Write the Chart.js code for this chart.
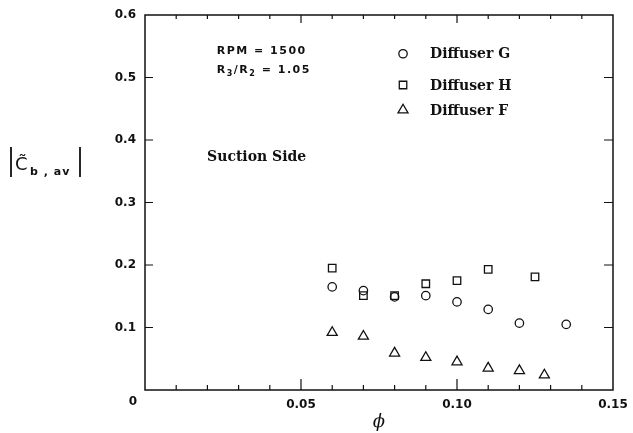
<!DOCTYPE html>
<html>
<head>
<meta charset="utf-8">
<script src="https://cdn.jsdelivr.net/npm/chart.js@4.4.1/dist/chart.umd.min.js"></script>
<style>
    html, body { margin: 0; padding: 0; background: #fff; }
    #wrap { width: 633px; height: 433px; }
</style>
</head>
<body>
<div id="wrap"><canvas id="chart"></canvas></div>
<script>
// ============================================
// DATA
// ============================================
const phiG = [0.06, 0.07, 0.08, 0.09, 0.10, 0.11, 0.12, 0.135];
const cbG = [0.165, 0.159, 0.149, 0.151, 0.141, 0.129, 0.107, 0.105];

const phiH = [0.06, 0.07, 0.08, 0.09, 0.10, 0.11, 0.125];
const cbH = [0.195, 0.151, 0.151, 0.170, 0.175, 0.193, 0.181];

const phiF = [0.06, 0.07, 0.08, 0.09, 0.10, 0.11, 0.12, 0.128];
const cbF = [0.092, 0.086, 0.059, 0.052, 0.045, 0.035, 0.031, 0.024];

const seriesNames = ['Diffuser G', 'Diffuser H', 'Diffuser F'];
const xTickLabels = ['0.05', '0.10', '0.15'];
const yTickLabels = ['0.1', '0.2', '0.3', '0.4', '0.5', '0.6'];

const ink = '#111';
const tickFont = { family: 'DejaVu Sans', size: 12, weight: 'bold' };

function toPoints(xs, ys) {
    return xs.map((x, i) => ({ x: x, y: ys[i] }));
}

function labelFor(list, value) {
    const hit = list.find((l) => Math.abs(parseFloat(l) - value) < 1e-6);
    return hit || '';
}

// keep the plot box fixed, labels may hang over the edges
function noOverhang(scale) {
    scale.paddingLeft = 0;
    scale.paddingRight = 0;
    scale.paddingTop = 0;
    scale.paddingBottom = 0;
}

// ============================================
// FRAME, INWARD TICKS AND TEXT
// ============================================
const decorPlugin = {
    id: 'decor',
    afterDraw(chart) {
        const ctx = chart.ctx;
        const area = chart.chartArea;
        const xs = chart.scales.x;
        const ys = chart.scales.y;

        ctx.save();
        ctx.strokeStyle = ink;
        ctx.fillStyle = ink;

        // box
        ctx.lineWidth = 1.5;
        ctx.strokeRect(area.left, area.top, area.right - area.left, area.bottom - area.top);

        // x ticks, top and bottom
        ctx.lineWidth = 1.2;
        xs.ticks.forEach((t) => {
            const px = xs.getPixelForValue(t.value);
            const major = labelFor(xTickLabels, t.value) !== '';
            if (px <= area.left + 1 || px >= area.right - 1) return;
            ctx.beginPath();
            ctx.moveTo(px, area.bottom);
            ctx.lineTo(px, area.bottom - (major ? 11 : 5));
            ctx.moveTo(px, area.top);
            ctx.lineTo(px, area.top + (major ? 8 : 4));
            ctx.stroke();
        });

        // y ticks, left and right
        ys.ticks.forEach((t) => {
            const py = ys.getPixelForValue(t.value);
            if (py >= area.bottom - 1 || py <= area.top + 1) return;
            ctx.beginPath();
            ctx.moveTo(area.left, py);
            ctx.lineTo(area.left + 8, py);
            ctx.moveTo(area.right, py);
            ctx.lineTo(area.right - 9, py);
            ctx.stroke();
        });

        // corner zero
        ctx.font = 'bold 12px "DejaVu Sans"';
        ctx.textAlign = 'center';
        ctx.textBaseline = 'middle';
        ctx.fillText('0', area.left - 12, area.bottom + 12);

        // y axis title |C~ b,av|
        ctx.lineWidth = 1.8;
        ctx.beginPath();
        ctx.moveTo(11, 147);
        ctx.lineTo(11, 177);
        ctx.moveTo(80, 147);
        ctx.lineTo(80, 177);
        ctx.stroke();
        ctx.textAlign = 'left';
        ctx.textBaseline = 'alphabetic';
        ctx.font = '18px "DejaVu Sans"';
        ctx.fillText('C\u0303', 15, 170);
        ctx.font = 'bold 11px "DejaVu Sans"';
        ctx.letterSpacing = '1px';
        ctx.fillText('b , av', 30, 175);

        // run notes
        ctx.font = 'bold 11px "DejaVu Sans"';
        ctx.letterSpacing = '1.5px';
        const nx = xs.getPixelForValue(0.023);
        ctx.fillText('RPM = 1500', nx, ys.getPixelForValue(0.537));
        let cx = nx;
        const ny = ys.getPixelForValue(0.508);
        const parts = [['R', 11, 0], ['3', 8, 3], ['/', 11, 0], ['R', 11, 0], ['2', 8, 3], [' = 1.05', 11, 0]];
        parts.forEach((p) => {
            ctx.font = 'bold ' + p[1] + 'px "DejaVu Sans"';
            ctx.fillText(p[0], cx, ny + p[2]);
            cx += ctx.measureText(p[0]).width;
        });
        ctx.letterSpacing = '0px';

        // side label
        ctx.font = 'bold 14px "DejaVu Serif"';
        ctx.fillText('Suction Side', xs.getPixelForValue(0.0199), ys.getPixelForValue(0.367));

        // legend
        const rowsY = [0.538, 0.488, 0.448];
        const mx = xs.getPixelForValue(0.0827);
        chart.data.datasets.forEach((ds, i) => {
            const py = ys.getPixelForValue(rowsY[i]);
            ctx.lineWidth = ds.borderWidth;
            ctx.fillStyle = 'rgba(0,0,0,0)';
            Chart.helpers.drawPoint(ctx, {
                pointStyle: ds.pointStyle,
                radius: ds.pointRadius,
                rotation: 0,
                borderWidth: ds.borderWidth,
            }, mx, py);
            ctx.fillStyle = ink;
            ctx.font = 'bold 14px "DejaVu Serif"';
            ctx.textBaseline = 'middle';
            ctx.fillText(ds.label, mx + 27, py + 1);
        });

        ctx.restore();
    },
};

// ============================================
// CHART
// ============================================
function createChart() {
    const ctx = document.getElementById('chart');

    new Chart(ctx, {
        type: 'scatter',
        data: {
            datasets: [
                {
                    label: seriesNames[0],
                    data: toPoints(phiG, cbG),
                    pointStyle: 'circle',
                    pointRadius: 4.2,
                    borderColor: ink,
                    backgroundColor: 'rgba(0,0,0,0)',
                    borderWidth: 1.3,
                },
                {
                    label: seriesNames[1],
                    data: toPoints(phiH, cbH),
                    pointStyle: 'rect',
                    pointRadius: 5.3,
                    borderColor: ink,
                    backgroundColor: 'rgba(0,0,0,0)',
                    borderWidth: 1.3,
                },
                {
                    label: seriesNames[2],
                    data: toPoints(phiF, cbF),
                    pointStyle: 'triangle',
                    pointRadius: 5.8,
                    borderColor: ink,
                    backgroundColor: 'rgba(0,0,0,0)',
                    borderWidth: 1.3,
                },
            ],
        },
        options: {
            responsive: true,
            maintainAspectRatio: false,
            animation: false,
            events: [],
            layout: {
                padding: { top: 15, right: 20, left: 0, bottom: 0 },
            },
            plugins: {
                legend: { display: false },
                tooltip: { enabled: false },
            },
            scales: {
                x: {
                    type: 'linear',
                    min: 0,
                    max: 0.15,
                    grid: { display: false, drawTicks: false },
                    border: { display: false },
                    afterFit: (scale) => {
                        scale.height = 43;
                        noOverhang(scale);
                    },
                    ticks: {
                        stepSize: 0.01,
                        autoSkip: false,
                        maxRotation: 0,
                        padding: 8,
                        color: ink,
                        font: tickFont,
                        callback: (value) => labelFor(xTickLabels, value),
                    },
                    title: {
                        display: true,
                        text: '\u03D5',
                        color: ink,
                        font: { family: 'DejaVu Serif', size: 18, style: 'italic' },
                        padding: { top: 0, bottom: 0 },
                    },
                },
                y: {
                    min: 0,
                    max: 0.6,
                    grid: { display: false, drawTicks: false },
                    border: { display: false },
                    afterFit: (scale) => {
                        scale.width = 145;
                        noOverhang(scale);
                    },
                    ticks: {
                        stepSize: 0.1,
                        padding: 9,
                        color: ink,
                        font: tickFont,
                        callback: (value) => labelFor(yTickLabels, value),
                    },
                },
            },
        },
        plugins: [decorPlugin],
    });
}

createChart();
</script>
</body>
</html>
